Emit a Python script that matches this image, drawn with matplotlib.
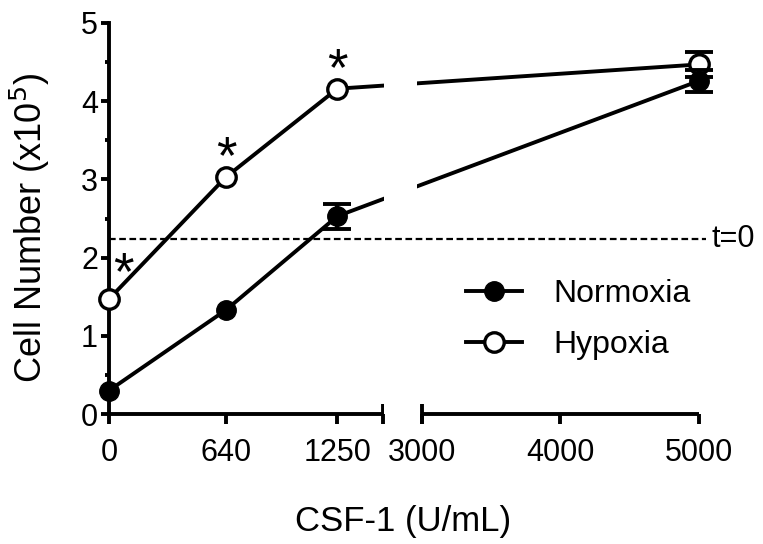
import numpy as np
import matplotlib
matplotlib.use('Agg')
import matplotlib.pyplot as plt
from matplotlib.ticker import MultipleLocator, NullLocator
from matplotlib.lines import Line2D
import matplotlib.transforms as mtransforms

plt.rcParams['font.family'] = ['Liberation Sans', 'DejaVu Sans']

# data
csf = [0, 640, 1250, 5000]
normoxia = [0.30, 1.33, 2.53, 4.26]
normoxia_err = [0.0, 0.0, 0.16, 0.14]
hypoxia = [1.47, 3.03, 4.16, 4.47]
hypoxia_err = [0.0, 0.0, 0.0, 0.16]
signif = [0, 640, 1250]          # starred hypoxia points
t0_level = 2.24
xticks = [0, 640, 1250, 3000, 4000, 5000]
yticks = [0, 1, 2, 3, 4, 5]

# broken axis: 0-1500 | gap | 3000-5000
BRK1, BRK2 = 1500, 3000
G = 0.142   # squeeze of the gap
R = 0.758   # right segment scale


def fwd(x):
    x = np.asarray(x, dtype=float)
    return np.where(x <= BRK1, x,
                    np.where(x <= BRK2, BRK1 + (x - BRK1) * G,
                             BRK1 + (BRK2 - BRK1) * G + (x - BRK2) * R))


def inv(u):
    u = np.asarray(u, dtype=float)
    u1 = BRK1 + (BRK2 - BRK1) * G
    return np.where(u <= BRK1, u,
                    np.where(u <= u1, BRK1 + (u - BRK1) / G,
                             BRK2 + (u - u1) / R))


def with_err(xs, ys, es):
    keep = [i for i, e in enumerate(es) if e > 0]
    return [xs[i] for i in keep], [ys[i] for i in keep], [es[i] for i in keep]


fig = plt.figure(figsize=(7.63, 5.44), dpi=100)
ax = fig.add_axes([109 / 763, 1 - 414 / 544, 590 / 763, 391 / 544])
ax.set_xscale('function', functions=(fwd, inv))
ax.set_xlim(0, 5000)
ax.set_ylim(0, 5)

lw = 2.8
ms = 14
ebkw = dict(fmt='none', ecolor='k', capsize=10, capthick=lw, elinewidth=lw,
            clip_on=False)

ax.errorbar(*with_err(csf, hypoxia, hypoxia_err), zorder=2.5, **ebkw)
ax.plot(csf, hypoxia, color='k', lw=lw, marker='o', ms=ms, mfc='white',
        mec='k', mew=2.4, clip_on=False, zorder=3)
ax.errorbar(*with_err(csf, normoxia, normoxia_err), zorder=3.2, **ebkw)
ax.plot(csf, normoxia, color='k', lw=lw, marker='o', ms=ms, mfc='k', mec='k',
        clip_on=False, zorder=3.5)

# white cut where the lines cross the axis break
ax.axvspan(1540, 2800, color='white', zorder=4, lw=0)

# t=0 dashed line
ax.plot([0, 5050], [t0_level, t0_level], color='k', lw=1.6,
        dashes=(3, 1.6), clip_on=False, zorder=5)
ax.annotate('t=0', (5050, t0_level), xytext=(4, 0), textcoords='offset points',
            fontsize=22, va='center', ha='left', annotation_clip=False)

# significance stars
hyp = dict(zip(csf, hypoxia))
offs = {0: (10, -1), 640: (0, -5), 1250: (0, -5)}
for c in signif:
    ax.annotate('*', (c, hyp[c]), xytext=offs[c], textcoords='offset points',
                fontsize=38, ha='center', va='bottom', annotation_clip=False)

# axes styling
for s in ['top', 'right', 'bottom']:
    ax.spines[s].set_visible(False)
ax.spines['left'].set_linewidth(lw)

trans = mtransforms.blended_transform_factory(ax.transData, ax.transAxes)
ax.plot([0, BRK1], [0, 0], color='k', lw=lw, transform=trans, clip_on=False,
        solid_capstyle='butt')
ax.plot([BRK2, 5000], [0, 0], color='k', lw=lw, transform=trans, clip_on=False,
        solid_capstyle='butt')
ax.plot([BRK1, BRK2], [0, 0], ls='none', marker='|', ms=14, mew=lw, color='k',
        transform=trans, clip_on=False)

ax.set_xticks(xticks)
ax.set_xticklabels([str(t) for t in xticks])
ax.xaxis.set_minor_locator(NullLocator())
ax.set_yticks(yticks)
ax.yaxis.set_minor_locator(MultipleLocator(0.5))
ax.tick_params(axis='x', direction='out', length=7, width=lw, labelsize=22, pad=10)
ax.tick_params(axis='y', which='major', direction='out', length=6, width=lw,
               labelsize=22, pad=2)
ax.tick_params(axis='y', which='minor', direction='out', length=3, width=lw)

fig.text(30 / 763, 1 - 228 / 544, 'Cell Number (x10$^5$)', rotation=90,
         fontsize=26, ha='center', va='center')
fig.text(403 / 763, 1 - 521 / 544, 'CSF-1 (U/mL)', fontsize=25,
         ha='center', va='center')

handles = [Line2D([], [], color='k', lw=lw, marker='o', ms=ms, mfc='k', mec='k'),
           Line2D([], [], color='k', lw=lw, marker='o', ms=ms, mfc='white',
                  mec='k', mew=2.4)]
ax.legend(handles, ['Normoxia', 'Hypoxia'], loc='upper left',
          bbox_to_anchor=(450 / 763, 1 - 263 / 544),
          bbox_transform=fig.transFigure, frameon=False, fontsize=23,
          handlelength=1.75, handletextpad=1.0, labelspacing=0.65,
          borderpad=0)

fig.savefig('out.png', dpi=100)
